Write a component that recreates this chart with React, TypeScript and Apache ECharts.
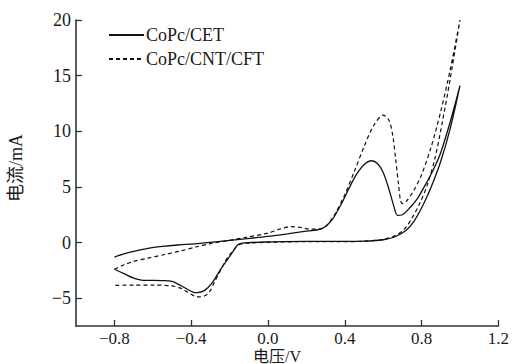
import React, { useEffect, useRef } from "react";
import * as echarts from "echarts";

// Cyclic voltammograms: potential (V) vs current (mA)
const seriesNames = ["CoPc/CET", "CoPc/CNT/CFT"];

// CoPc/CET — full scan loop
const cetCurve: [number, number][] = [
  [-0.8, -1.3], [-0.75, -1.02], [-0.7, -0.8], [-0.625, -0.52], [-0.55, -0.35],
  [-0.47, -0.22], [-0.37, -0.1], [-0.25, 0.1], [-0.12, 0.33], [0.0, 0.55],
  [0.1, 0.78], [0.19, 1.0], [0.26, 1.15], [0.3, 1.45], [0.34, 2.2],
  [0.38, 3.4], [0.42, 4.8], [0.46, 6.1], [0.5, 7.0], [0.54, 7.35],
  [0.57, 7.1], [0.6, 6.3], [0.63, 4.8], [0.655, 3.3], [0.674, 2.45],
  [0.7, 2.5], [0.74, 3.15], [0.78, 4.0], [0.82, 5.2], [0.86, 6.5],
  [0.9, 8.1], [0.95, 10.9], [1.0, 14.1],
  [0.95, 10.3], [0.9, 7.3], [0.85, 5.0], [0.8, 3.1], [0.76, 1.9],
  [0.72, 1.1], [0.66, 0.5], [0.6, 0.25], [0.5, 0.12], [0.4, 0.1],
  [0.2, 0.1], [0.0, 0.05], [-0.1, 0.0], [-0.14, -0.08], [-0.16, -0.25],
  [-0.18, -0.75], [-0.21, -1.5], [-0.25, -2.5], [-0.29, -3.6], [-0.33, -4.3],
  [-0.37, -4.5], [-0.39, -4.45], [-0.42, -4.2], [-0.455, -3.86], [-0.5, -3.5],
  [-0.55, -3.42], [-0.62, -3.4], [-0.66, -3.38], [-0.7, -3.2], [-0.75, -2.8],
  [-0.8, -2.4],
];

// CoPc/CNT/CFT — full scan loop
const cntCfTCurve: [number, number][] = [
  [-0.8, -2.4], [-0.75, -2.0], [-0.7, -1.7], [-0.625, -1.4], [-0.55, -1.12],
  [-0.455, -0.75], [-0.37, -0.38], [-0.3, -0.1], [-0.2, 0.2], [-0.12, 0.45],
  [0.0, 0.85], [0.06, 1.2], [0.12, 1.43], [0.17, 1.35], [0.22, 1.2],
  [0.27, 1.2], [0.31, 1.6], [0.35, 2.6], [0.4, 4.3], [0.45, 6.4],
  [0.5, 8.6], [0.55, 10.5], [0.6, 11.45], [0.63, 11.0], [0.65, 9.6],
  [0.665, 7.5], [0.68, 5.2], [0.69, 3.8], [0.7, 3.5], [0.72, 3.7],
  [0.76, 4.7], [0.8, 6.1], [0.85, 8.6], [0.9, 11.8], [0.95, 15.6],
  [1.0, 20.0],
  [0.95, 14.8], [0.91, 11.0], [0.87, 7.6], [0.83, 5.2], [0.79, 3.5],
  [0.75, 2.2], [0.71, 1.2], [0.66, 0.6], [0.6, 0.28], [0.5, 0.12],
  [0.4, 0.08], [0.2, 0.08], [0.0, 0.02], [-0.1, -0.05], [-0.14, -0.12],
  [-0.16, -0.3], [-0.19, -0.9], [-0.22, -1.6], [-0.25, -2.6], [-0.28, -3.6],
  [-0.3, -4.3], [-0.32, -4.7], [-0.35, -4.88], [-0.37, -4.88], [-0.4, -4.65],
  [-0.42, -4.45], [-0.455, -4.1], [-0.5, -3.9], [-0.6, -3.82], [-0.7, -3.82],
  [-0.8, -3.86],
];

const xTicks = [-0.8, -0.4, 0.0, 0.4, 0.8, 1.2];
const yTicks = [-5, 0, 5, 10, 15, 20];

const SERIF = "'Liberation Serif', 'Times New Roman', 'Noto Sans CJK SC', serif";
const INK = "#1a1a1a";
const AXIS = "#333333";

const fmt = (v: number, digits: number) =>
  (v < 0 ? "\u2212" : "") + Math.abs(v).toFixed(digits);

export default function App() {
  const ref = useRef<HTMLDivElement>(null);

  useEffect(() => {
    if (!ref.current) return;
    const chart = echarts.init(ref.current, undefined, { renderer: "svg" });
    chart.setOption({
      animation: false,
      backgroundColor: "#ffffff",
      grid: { left: 76, right: 8.5, top: 20, bottom: 38 },
      legend: {
        orient: "vertical",
        left: 103,
        top: 21,
        itemWidth: 35,
        itemHeight: 14,
        itemGap: 6,
        data: seriesNames,
        itemStyle: { opacity: 0 },
        textStyle: { fontFamily: SERIF, fontSize: 18, color: INK, padding: [0, 0, 0, -3] },
      },
      xAxis: {
        type: "value",
        min: -1.0,
        max: 1.2,
        splitLine: { show: false },
        axisLine: { onZero: false, lineStyle: { color: AXIS, width: 1.6 } },
        axisTick: { inside: true, length: 6, customValues: xTicks, lineStyle: { color: AXIS, width: 1.3 } },
        axisLabel: {
          customValues: xTicks,
          formatter: (v: number) => fmt(v, 1),
          fontFamily: SERIF,
          fontSize: 17,
          lineHeight: 17,
          color: INK,
          margin: 4,
        },
      },
      yAxis: {
        type: "value",
        min: -7.5,
        max: 20,
        splitLine: { show: false },
        axisLine: { onZero: false, lineStyle: { color: AXIS, width: 1.6 } },
        axisTick: { inside: true, length: 6, customValues: yTicks, lineStyle: { color: AXIS, width: 1.3 } },
        axisLabel: {
          customValues: yTicks,
          formatter: (v: number) => fmt(v, 0),
          fontFamily: SERIF,
          fontSize: 18,
          color: INK,
          margin: 5,
        },
      },
      graphic: [
        {
          type: "text",
          x: 277,
          y: 356,
          style: {
            text: "电压/V",
            fontFamily: SERIF,
            fontSize: 16,
            fill: INK,
            align: "center",
            verticalAlign: "middle",
          },
        },
        {
          type: "text",
          x: 16,
          y: 168,
          rotation: Math.PI / 2,
          style: {
            text: "电流/mA",
            fontFamily: SERIF,
            fontSize: 18,
            fill: INK,
            align: "center",
            verticalAlign: "middle",
          },
        },
      ],
      series: [
        {
          name: seriesNames[0],
          type: "line",
          data: cetCurve,
          smooth: 0.3,
          symbol: "none",
          lineStyle: { color: "#111111", width: 1.3, type: "solid" },
          itemStyle: { color: "#111111" },
        },
        {
          name: seriesNames[1],
          type: "line",
          data: cntCfTCurve,
          smooth: 0.3,
          symbol: "none",
          lineStyle: { color: "#111111", width: 1.2, type: [4, 3] },
          itemStyle: { color: "#111111" },
        },
      ],
    });
    return () => chart.dispose();
  }, []);

  return <div ref={ref} style={{ width: 512, height: 364, position: "absolute", left: 0, top: 0 }} />;
}
